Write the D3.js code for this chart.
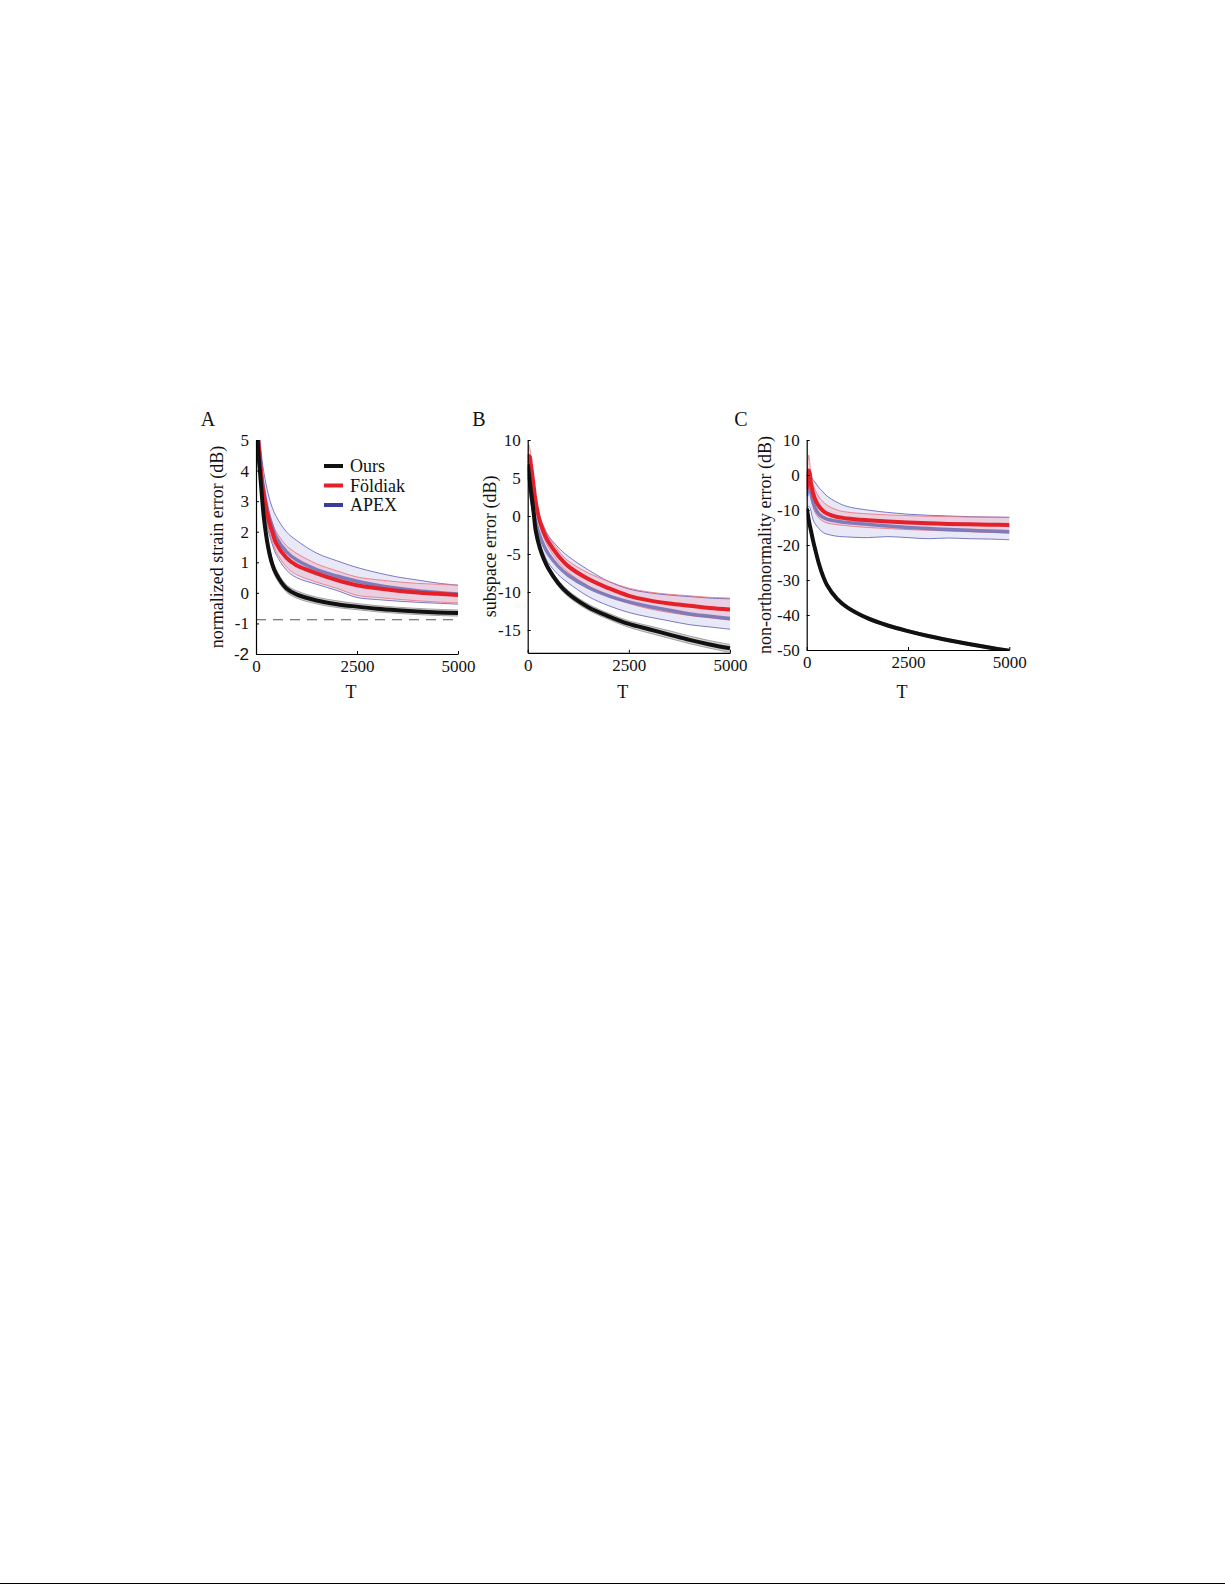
<!DOCTYPE html>
<html>
<head>
<meta charset="utf-8">
<script src="https://cdn.jsdelivr.net/npm/d3@7"></script>
<style>
  html, body { margin: 0; padding: 0; background: #fff; }
  svg { display: block; }
  text { font-family: "Liberation Serif", "DejaVu Serif", serif; fill: #111; }
</style>
</head>
<body>
<div id="app"></div>
<script>
// sample times (T) shared by every series
const T = [0, 25, 50, 75, 100, 150, 200, 300, 400, 500, 750, 1000, 1500, 2000, 2500, 3000, 3500, 4000, 4500, 5000];

const xTicks = [0, 2500, 5000];

// ---- panel A : normalized strain error (dB)
const aOurs      = [7.0, 5.4, 4.8, 4.3, 3.95, 3.1, 2.4, 1.5, 0.95, 0.62, 0.15, -0.05, -0.25, -0.37, -0.45, -0.52, -0.57, -0.61, -0.64, -0.66];
const aOursHi    = [7.2, 5.6, 5.0, 4.5, 4.15, 3.3, 2.6, 1.68, 1.1, 0.76, 0.27, 0.07, -0.14, -0.26, -0.35, -0.42, -0.47, -0.51, -0.54, -0.56];
const aOursLo    = [6.8, 5.2, 4.6, 4.1, 3.75, 2.9, 2.2, 1.32, 0.8, 0.48, 0.03, -0.17, -0.36, -0.48, -0.55, -0.62, -0.67, -0.71, -0.74, -0.76];
const aFold      = [7.5, 5.8, 5.1, 4.7, 4.3, 3.6, 3.15, 2.45, 2.0, 1.62, 1.15, 0.9, 0.64, 0.42, 0.25, 0.15, 0.07, 0.01, -0.03, -0.07];
const aFoldHi    = [7.8, 6.0, 5.3, 4.9, 4.5, 3.85, 3.4, 2.75, 2.3, 2.0, 1.55, 1.3, 0.95, 0.72, 0.52, 0.43, 0.36, 0.31, 0.28, 0.25];
const aFoldLo    = [7.2, 5.6, 4.9, 4.5, 4.1, 3.35, 2.9, 2.15, 1.7, 1.35, 0.85, 0.6, 0.35, 0.15, -0.08, -0.15, -0.21, -0.26, -0.3, -0.33];
const aApex      = [7.5, 5.85, 5.2, 4.8, 4.42, 3.75, 3.3, 2.62, 2.18, 1.82, 1.35, 1.08, 0.76, 0.55, 0.38, 0.25, 0.15, 0.07, 0.01, -0.04];
const aApexHi    = [8.0, 6.3, 5.7, 5.3, 4.95, 4.35, 3.9, 3.25, 2.8, 2.5, 2.0, 1.72, 1.3, 1.05, 0.83, 0.66, 0.52, 0.42, 0.32, 0.25];
const aApexLo    = [7.0, 5.4, 4.75, 4.35, 3.95, 3.2, 2.75, 2.05, 1.6, 1.25, 0.75, 0.5, 0.28, 0.08, -0.15, -0.22, -0.27, -0.31, -0.34, -0.37];
const aYTicks    = [-2, -1, 0, 1, 2, 3, 4, 5];
const aBound     = -0.88;   // dashed reference level

// ---- panel B : subspace error (dB)
const bOurs      = [6.8, 5.8, 4.6, 3.5, 2.5, 0.3, -2.0, -4.2, -5.7, -6.8, -8.8, -10.2, -12.0, -13.2, -14.2, -14.9, -15.6, -16.3, -16.9, -17.4];
const bOursHi    = [7.2, 6.2, 5.0, 3.9, 2.9, 0.7, -1.6, -3.8, -5.3, -6.4, -8.4, -9.8, -11.6, -12.8, -13.8, -14.45, -15.1, -15.8, -16.4, -16.9];
const bOursLo    = [6.4, 5.4, 4.2, 3.1, 2.1, -0.1, -2.4, -4.6, -6.1, -7.2, -9.2, -10.6, -12.4, -13.6, -14.65, -15.4, -16.1, -16.8, -17.4, -17.95];
const bFold      = [7.0, 7.9, 7.8, 6.9, 6.0, 3.8, 1.8, -0.7, -2.2, -3.3, -5.2, -6.6, -8.3, -9.5, -10.5, -11.1, -11.5, -11.8, -12.1, -12.3];
const bFoldHi    = [7.5, 9.4, 9.0, 7.8, 6.7, 4.5, 2.4, -0.1, -1.5, -2.6, -4.5, -5.9, -7.5, -8.6, -9.5, -10.0, -10.3, -10.5, -10.7, -10.8];
const bFoldLo    = [6.5, 7.2, 7.0, 6.2, 5.3, 3.2, 1.2, -1.3, -2.9, -4.0, -6.0, -7.4, -9.2, -10.5, -11.5, -12.2, -12.7, -13.1, -13.4, -13.7];
const bApex      = [6.8, 5.5, 4.2, 3.0, 2.0, 0.5, -0.8, -2.6, -3.9, -4.9, -6.6, -7.8, -9.4, -10.5, -11.3, -11.9, -12.4, -12.9, -13.2, -13.5];
const bApexHi    = [7.2, 6.8, 6.0, 5.0, 4.0, 2.5, 1.3, -0.2, -1.4, -2.5, -4.1, -5.3, -7.1, -8.6, -9.6, -10.1, -10.4, -10.6, -10.8, -10.9];
const bApexLo    = [6.4, 5.2, 4.0, 3.0, 2.0, 0.0, -1.6, -3.7, -5.0, -6.1, -7.7, -8.8, -10.6, -11.8, -12.7, -13.3, -13.8, -14.3, -14.6, -14.9];
const bYTicks    = [-15, -10, -5, 0, 5, 10];

// ---- panel C : non-orthonormality error (dB)
const cOurs      = [-9.5, -11.2, -12.8, -14.3, -15.6, -18.4, -20.8, -25.3, -28.8, -31.4, -35.4, -37.8, -40.9, -43.0, -44.6, -46.0, -47.2, -48.3, -49.3, -50.2];
const cOursHi    = [-9.1, -10.8, -12.4, -13.9, -15.2, -18.0, -20.4, -24.9, -28.4, -31.0, -35.0, -37.4, -40.5, -42.6, -44.2, -45.6, -46.8, -47.9, -48.9, -49.8];
const cOursLo    = [-9.9, -11.6, -13.2, -14.7, -16.0, -18.8, -21.2, -25.7, -29.2, -31.8, -35.8, -38.2, -41.3, -43.4, -45.0, -46.4, -47.6, -48.7, -49.7, -50.6];
const cFold      = [-4.0, -1.0, 1.3, 0.5, -2.0, -4.8, -6.7, -8.9, -10.2, -11.0, -12.0, -12.4, -12.9, -13.3, -13.6, -13.8, -14.0, -14.1, -14.2, -14.3];
const cFoldHi    = [-1.5, 3.0, 5.7, 3.5, 0.0, -2.5, -4.0, -6.3, -7.6, -8.6, -10.0, -10.6, -11.1, -11.4, -11.6, -11.8, -11.9, -12.0, -12.05, -12.1];
const cFoldLo    = [-7.0, -5.0, -2.5, -2.5, -5.5, -8.8, -10.6, -12.3, -13.2, -13.7, -14.2, -14.5, -15.0, -15.3, -15.6, -15.8, -16.0, -16.2, -16.4, -16.6];
const cApex      = [-6.0, -4.0, -3.0, -3.5, -5.0, -7.5, -9.2, -11.2, -12.1, -12.6, -13.2, -13.6, -14.1, -14.6, -15.0, -15.3, -15.6, -15.8, -16.0, -16.2];
const cApexHi    = [-3.0, -1.0, -0.2, 0.0, -0.3, -1.2, -2.0, -3.6, -4.8, -6.0, -7.8, -9.0, -10.0, -10.7, -11.2, -11.5, -11.7, -11.9, -12.0, -12.1];
const cApexLo    = [-9.0, -9.0, -9.0, -9.2, -10.0, -12.5, -13.8, -15.3, -16.4, -16.9, -17.5, -17.7, -17.9, -17.6, -17.9, -18.2, -18.0, -18.2, -18.3, -18.5];
const cYTicks    = [-50, -40, -30, -20, -10, 0, 10];

const legendNames = ['Ours', 'Földiak', 'APEX'];

// colours
const col = {
  ours: '#111111', oursBand: '#bdbdbd', oursEdge: '#8f8f8f',
  fold: '#e4202b', foldBand: 'rgba(236,120,140,0.22)', foldEdge: '#e8707c',
  apex: '#7472b6', apexBand: '#e4e4f5', apexEdge: '#5b5bb8', legendApex: '#3b3b98'
};

const width = 1225, height = 1585;
const svg = d3.select('#app').append('svg')
  .attr('width', width)
  .attr('height', height);

// bottom page rule
svg.append('line')
  .attr('x1', 0).attr('x2', width)
  .attr('y1', 1583.5).attr('y2', 1583.5)
  .attr('stroke', '#000').attr('stroke-width', 1.2);

// plain hyphen minus, as in the figure
const tickFmt = d => String(d);

function drawPanel(p) {
  const x = d3.scaleLinear().domain([0, 5000]).range([p.left, p.right]);
  const y = d3.scaleLinear().domain(p.yDomain).range([p.bottom, p.top]);
  const g = svg.append('g');

  const clipId = 'clip-' + p.letter;
  svg.append('clipPath').attr('id', clipId)
    .append('rect')
    .attr('x', p.left).attr('y', p.top)
    .attr('width', p.right - p.left + 2).attr('height', p.bottom - p.top);

  const plot = g.append('g').attr('clip-path', `url(#${clipId})`);
  const curve = d3.curveCatmullRom.alpha(0.5);

  const line = vals => d3.line()
    .x((d, i) => x(T[i]))
    .y(d => y(d))
    .curve(curve)(vals);

  const area = (lo, hi) => d3.area()
    .x((d, i) => x(T[i]))
    .y0((d, i) => y(lo[i]))
    .y1((d, i) => y(hi[i]))
    .curve(curve)(T);

  // bands
  plot.append('path').attr('d', area(p.apexLo, p.apexHi)).attr('fill', col.apexBand).attr('opacity', 0.85);
  plot.append('path').attr('d', area(p.foldLo, p.foldHi)).attr('fill', col.foldBand);
  plot.append('path').attr('d', area(p.oursLo, p.oursHi)).attr('fill', col.oursBand).attr('opacity', 0.7);

  // band edges
  [[p.apexLo, col.apexEdge], [p.apexHi, col.apexEdge],
   [p.foldLo, col.foldEdge], [p.foldHi, col.foldEdge],
   [p.oursLo, col.oursEdge], [p.oursHi, col.oursEdge]].forEach(([v, c]) => {
    plot.append('path').attr('d', line(v))
      .attr('fill', 'none').attr('stroke', c).attr('stroke-width', 0.8);
  });

  if (p.bound !== undefined) {
    g.append('line')
      .attr('x1', p.left).attr('x2', p.right)
      .attr('y1', y(p.bound)).attr('y2', y(p.bound))
      .attr('stroke', '#555').attr('stroke-width', 1.2)
      .attr('stroke-dasharray', '10,7');
  }

  // means
  plot.append('path').attr('d', line(p.apex))
    .attr('fill', 'none').attr('stroke', col.apex).attr('stroke-width', 3.5).attr('opacity', 0.9);
  plot.append('path').attr('d', line(p.fold))
    .attr('fill', 'none').attr('stroke', col.fold).attr('stroke-width', 4);
  plot.append('path').attr('d', line(p.ours))
    .attr('fill', 'none').attr('stroke', col.ours).attr('stroke-width', 4);

  // axes (MATLAB style: ticks inward, no box)
  const yAxis = g.append('g')
    .attr('transform', `translate(${p.left},0)`)
    .call(d3.axisLeft(y).tickValues(p.yTicks).tickSizeInner(-3).tickSizeOuter(0).tickPadding(7).tickFormat(tickFmt));
  const xAxis = g.append('g')
    .attr('transform', `translate(0,${p.bottom})`)
    .call(d3.axisBottom(x).tickValues(xTicks).tickSizeInner(-3).tickSizeOuter(0).tickPadding(6).tickFormat(tickFmt));

  [yAxis, xAxis].forEach(a => {
    a.select('.domain').attr('stroke', '#000').attr('stroke-width', 1.2);
    a.selectAll('.tick line').attr('stroke', '#000');
    a.selectAll('.tick text')
      .style('font-family', '"Liberation Serif", serif')
      .style('font-size', '17px')
      .attr('fill', '#111');
  });
  if (p.sansTick !== undefined) {
    yAxis.selectAll('.tick text').filter(d => d === p.sansTick)
      .style('font-family', '"Liberation Sans", Arial, sans-serif');
  }

  // labels
  g.append('text')
    .attr('transform', `translate(${p.yLabelX},${(p.top + p.bottom) / 2}) rotate(-90)`)
    .attr('text-anchor', 'middle')
    .style('font-size', '18px')
    .text(p.yLabel);

  g.append('text')
    .attr('x', (p.left + p.right) / 2 - 6)
    .attr('y', 698)
    .attr('text-anchor', 'middle')
    .style('font-size', '18px')
    .text('T');

  g.append('text')
    .attr('x', p.letterX)
    .attr('y', 426)
    .attr('text-anchor', 'middle')
    .style('font-size', '20px')
    .text(p.letter);

  return { x, y, g };
}

const A = drawPanel({
  letter: 'A', letterX: 208,
  left: 256, right: 458, top: 440, bottom: 654,
  yDomain: [-2, 5], yTicks: aYTicks, sansTick: -2,
  yLabel: 'normalized strain error (dB)', yLabelX: 223,
  ours: aOurs, oursHi: aOursHi, oursLo: aOursLo,
  fold: aFold, foldHi: aFoldHi, foldLo: aFoldLo,
  apex: aApex, apexHi: aApexHi, apexLo: aApexLo,
  bound: aBound
});

drawPanel({
  letter: 'B', letterX: 479,
  left: 527.7, right: 730, top: 440, bottom: 652.8,
  yDomain: [-18, 10], yTicks: bYTicks,
  yLabel: 'subspace error (dB)', yLabelX: 496,
  ours: bOurs, oursHi: bOursHi, oursLo: bOursLo,
  fold: bFold, foldHi: bFoldHi, foldLo: bFoldLo,
  apex: bApex, apexHi: bApexHi, apexLo: bApexLo
});

drawPanel({
  letter: 'C', letterX: 741,
  left: 806.7, right: 1009.3, top: 440, bottom: 650,
  yDomain: [-50, 10], yTicks: cYTicks,
  yLabel: 'non-orthonormality error (dB)', yLabelX: 771,
  ours: cOurs, oursHi: cOursHi, oursLo: cOursLo,
  fold: cFold, foldHi: cFoldHi, foldLo: cFoldLo,
  apex: cApex, apexHi: cApexHi, apexLo: cApexLo
});

// legend in panel A
const legendColors = [col.ours, col.fold, col.legendApex];
const legend = A.g.append('g').attr('transform', 'translate(324,466)');
legendNames.forEach((name, i) => {
  const row = legend.append('g').attr('transform', `translate(0,${i * 19.5})`);
  row.append('line')
    .attr('x1', 0).attr('x2', 19)
    .attr('stroke', legendColors[i]).attr('stroke-width', 4);
  row.append('text')
    .attr('x', 26).attr('y', 6)
    .style('font-size', '18px')
    .text(name);
});
</script>
</body>
</html>
